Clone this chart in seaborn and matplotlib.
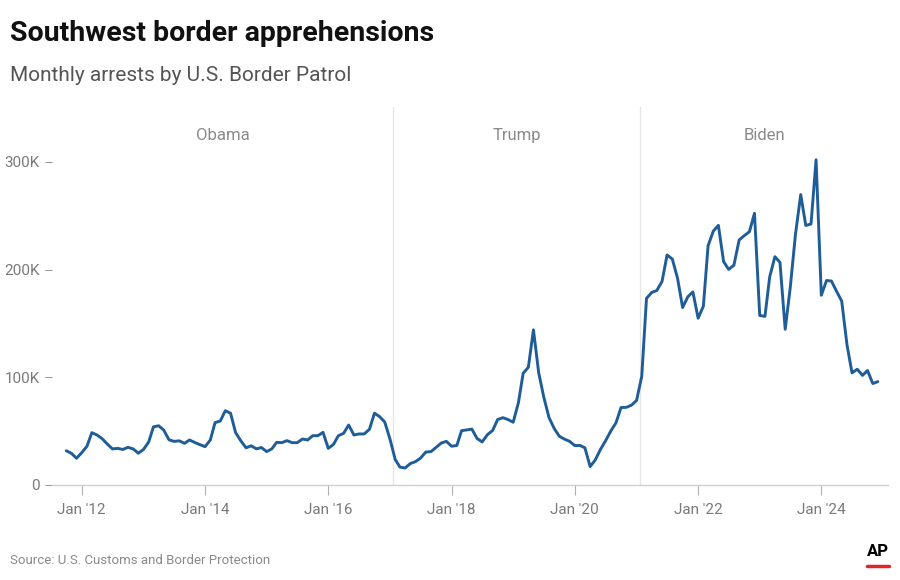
import matplotlib
matplotlib.use("Agg")
import matplotlib.pyplot as plt
import matplotlib.dates as mdates
import seaborn as sns
import pandas as pd
import numpy as np

# Monthly values (thousands), Oct 2011 - Dec 2024
y2011 = [31.8, 29.4, 24.8]  # Oct-Dec
y2012 = [30.0, 36.0, 48.6, 46.4, 43.0, 38.0, 33.5, 34.0, 33.0, 35.0, 33.5, 29.5]
y2013 = [33.0, 40.0, 54.0, 55.0, 51.0, 42.0, 40.5, 41.0, 38.7, 41.8, 39.5, 37.5]
y2014 = [35.6, 41.8, 57.9, 59.4, 69.0, 66.6, 48.6, 41.0, 34.5, 36.4, 33.6, 34.8]
y2015 = [31.0, 33.6, 39.6, 39.3, 41.2, 39.3, 39.3, 42.7, 41.8, 45.8, 45.8, 48.9]
y2016 = [34.0, 37.7, 45.8, 48.0, 55.7, 46.4, 47.4, 47.4, 51.7, 66.7, 63.4, 58.4]
y2017 = [42.5, 23.6, 16.6, 15.8, 19.9, 21.7, 25.0, 30.6, 31.0, 34.9, 39.0, 40.5]
y2018 = [36.0, 36.7, 50.4, 51.2, 51.9, 43.2, 40.0, 46.7, 50.6, 60.8, 62.5, 60.8]
y2019 = [58.3, 76.5, 103.7, 109.4, 144.1, 104.3, 81.8, 62.7, 52.5, 45.3, 42.6, 40.6]
y2020 = [36.6, 36.7, 34.5, 17.1, 23.2, 33.0, 40.9, 50.0, 57.7, 71.9, 72.1, 74.0]
y2021 = [78.4, 101.1, 173.3, 178.8, 180.6, 189.0, 213.6, 209.8, 192.0, 164.8, 174.8, 179.3]
y2022 = [154.9, 166.0, 222.2, 235.8, 241.1, 207.4, 200.2, 204.1, 227.5, 231.5, 235.2, 252.3]
y2023 = [157.4, 156.6, 193.2, 212.0, 206.7, 144.6, 183.5, 233.0, 269.7, 241.0, 242.4, 302.0]
y2024 = [176.2, 189.9, 189.4, 179.7, 170.7, 130.4, 104.1, 107.5, 101.8, 106.3, 94.2, 96.0]

values_k = (y2011 + y2012 + y2013 + y2014 + y2015 + y2016 + y2017 + y2018
            + y2019 + y2020 + y2021 + y2022 + y2023 + y2024)
months = pd.date_range("2011-10-01", periods=len(values_k), freq="MS")

presidents = ["Obama", "Trump", "Biden"]
term_starts = ["2009-01-20", "2017-01-20", "2021-01-20"]
y_ticks = [0, 100000, 200000, 300000]
y_tick_labels = ["0", "100K", "200K", "300K"]

df = pd.DataFrame({"month": months, "arrests": np.array(values_k) * 1000})

sns.set_theme(style="white")
plt.rcParams["font.family"] = ["Roboto", "DejaVu Sans"]

fig = plt.figure(figsize=(9, 5.8), dpi=100)
ax = fig.add_axes([0.058, 0.1638, 0.929, 0.6517])

x_left = pd.Timestamp("2011-07-10")
x_right = pd.Timestamp("2025-02-01")

sns.lineplot(data=df, x="month", y="arrests", ax=ax, color="#1f5d99",
             linewidth=2.1, zorder=3)

ax.set_xlim(x_left, x_right)
ax.set_ylim(0, 351000)

# term separators and labels
bounds = [pd.Timestamp(t) for t in term_starts[1:]]
for b in bounds:
    ax.axvline(b, color="#e6e6e6", linewidth=1.0, zorder=1)
edges = [x_left] + bounds + [x_right]
for name, a, b in zip(presidents, edges[:-1], edges[1:]):
    mid = a + (b - a) / 2
    ax.text(mid, 325000, name, ha="center", va="center", fontsize=12,
            color="#8a8a8a")

for s in ["top", "right", "left"]:
    ax.spines[s].set_visible(False)
ax.spines["bottom"].set_color("#d0d0d0")
ax.spines["bottom"].set_linewidth(1.0)

ax.set_yticks(y_ticks)
ax.set_yticklabels(y_tick_labels)
ax.xaxis.set_major_locator(mdates.YearLocator(2))
ax.xaxis.set_major_formatter(mdates.DateFormatter("Jan '%y"))
ax.tick_params(axis="y", length=5, width=0.8, color="#9a9a9a", direction="out",
               labelsize=11, labelcolor="#7a7a7a", pad=4, left=True)
ax.tick_params(axis="x", length=7, width=0.8, color="#b0b0b0", direction="out",
               labelsize=11, labelcolor="#7a7a7a", pad=6, bottom=True)
ax.set_xlabel("")
ax.set_ylabel("")
ax.grid(False)

fig.text(0.011, 0.943, "Southwest border apprehensions", fontsize=20.5,
         fontweight="bold", color="#111111", ha="left", va="center")
fig.text(0.011, 0.869, "Monthly arrests by U.S. Border Patrol", fontsize=15,
         color="#555555", ha="left", va="center")
fig.text(0.011, 0.034, "Source: U.S. Customs and Border Protection", fontsize=9.5,
         color="#8a8a8a", ha="left", va="center")
fig.text(0.976, 0.05, "AP", fontsize=12, fontweight="bold", color="#000000",
         ha="center", va="center")
fig.add_artist(plt.Line2D([0.963, 0.988], [0.025, 0.025], color="#e0242b",
                          linewidth=2.5, transform=fig.transFigure))

fig.savefig("out.png", dpi=100, facecolor="white")
